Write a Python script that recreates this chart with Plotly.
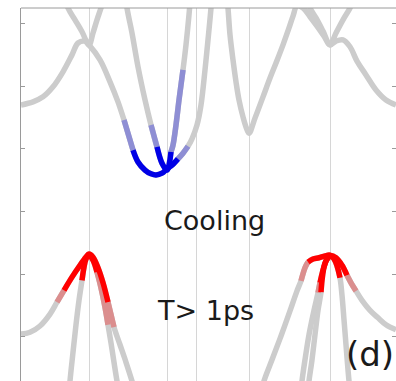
import plotly.graph_objects as go

# Band structure along a k-path (k in path units, E in eV).
# occ = carrier occupation weight at each k-point (0 = empty, 1 = full).

kpath_ticks = [0.68, 1.46, 1.75, 2.28, 3.09]
e_ticks = [-1, 0, 1, 2, 3, 4]

# ---- conduction bands ----
cb1_k = [0.00, 0.12, 0.22, 0.32, 0.42, 0.51, 0.57, 0.64, 0.68, 0.79, 0.89, 0.97,
         1.03, 1.09, 1.12, 1.17, 1.24, 1.30, 1.35, 1.41, 1.46, 1.51, 1.57, 1.62,
         1.67, 1.71, 1.76, 1.80, 1.84, 1.87, 1.90, 1.92]
cb1_e = [2.70, 2.75, 2.83, 2.99, 3.23, 3.50, 3.69, 3.72, 3.66, 3.42, 3.07, 2.75,
         2.46, 2.14, 1.98, 1.79, 1.66, 1.60, 1.58, 1.61, 1.68, 1.74, 1.84, 1.93,
         2.04, 2.16, 2.38, 2.70, 3.26, 3.74, 4.25, 4.70]
cb1_occ = [0, 0, 0, 0, 0, 0, 0, 0, 0, 0, 0, 0,
           0.4, 0.4, 1, 1, 1, 1, 1, 1, 1, 1, 1, 0.4,
           0.4, 0, 0, 0, 0, 0, 0, 0]

cb2_k = [1.01, 1.06, 1.11, 1.17, 1.24, 1.30, 1.36, 1.41, 1.46, 1.50, 1.52, 1.55,
         1.58, 1.62, 1.65, 1.68, 1.70]
cb2_e = [4.86, 4.25, 3.85, 3.31, 2.78, 2.38, 2.03, 1.77, 1.66, 1.95, 2.06, 2.38,
         2.78, 3.26, 3.66, 4.14, 4.54]
cb2_occ = [0, 0, 0, 0, 0, 0.4, 1, 1, 1, 1, 0.4, 0.4,
           0.4, 0.4, 0, 0, 0]

cb3_k = [0.43, 0.47, 0.54, 0.61, 0.68, 0.72, 0.76, 0.80, 0.83]
cb3_e = [4.46, 4.25, 4.06, 3.87, 3.66, 3.85, 4.06, 4.25, 4.41]
cb3_occ = [0] * len(cb3_k)

cb4_k = [2.05, 2.07, 2.09, 2.12, 2.15, 2.18, 2.22, 2.25, 2.28, 2.34, 2.42, 2.49,
         2.55, 2.62, 2.68, 2.72, 2.76, 2.82, 2.89, 2.96, 3.03, 3.09, 3.15, 3.22,
         3.29, 3.36, 3.45, 3.55, 3.65, 3.75]
cb4_e = [4.62, 4.25, 3.82, 3.42, 3.07, 2.78, 2.51, 2.35, 2.25, 2.49, 2.83, 3.13,
         3.37, 3.66, 3.93, 4.12, 4.28, 4.25, 4.11, 3.96, 3.80, 3.66, 3.72, 3.74,
         3.63, 3.40, 3.18, 2.94, 2.78, 2.70]
cb4_occ = [0] * len(cb4_k)

cb5_k = [2.83, 2.89, 2.95, 3.02, 3.09, 3.15, 3.22, 3.29, 3.33]
cb5_e = [4.50, 4.25, 4.09, 3.88, 3.66, 3.85, 4.06, 4.25, 4.41]
cb5_occ = [0] * len(cb5_k)

# ---- valence bands ----
vb1_k = [0.00, 0.09, 0.19, 0.29, 0.36, 0.43, 0.51, 0.59, 0.65, 0.68, 0.72, 0.77,
         0.82, 0.87, 0.90, 0.93, 0.99, 1.05, 1.11, 1.14]
vb1_e = [-0.96, -0.93, -0.83, -0.64, -0.45, -0.26, -0.05, 0.14, 0.27, 0.32, 0.27, 0.10,
         -0.14, -0.45, -0.65, -0.85, -1.13, -1.41, -1.71, -1.88]
vb1_occ = [0, 0, 0, 0, 0.4, 1, 1, 1, 1, 1, 1, 1,
           1, 1, 0.4, 0.4, 0, 0, 0, 0]

vb2_k = [0.48, 0.49, 0.52, 0.55, 0.58, 0.61, 0.63, 0.65, 0.68, 0.72, 0.76, 0.80,
         0.84, 0.87, 0.90, 0.93, 0.96, 0.98]
vb2_e = [-1.93, -1.71, -1.25, -0.81, -0.42, -0.10, 0.11, 0.24, 0.30, 0.22, 0.03, -0.22,
         -0.53, -0.81, -1.10, -1.41, -1.71, -1.88]
vb2_occ = [0, 0, 0, 0, 0, 1, 1, 1, 1, 1, 1, 0.4,
           0.4, 0.4, 0, 0, 0, 0]

vb3_k = [2.41, 2.43, 2.51, 2.60, 2.69, 2.76, 2.80, 2.84, 2.87, 2.92, 2.98, 3.04,
         3.09, 3.13, 3.16, 3.19, 3.21, 3.23, 3.25, 3.27, 3.28, 3.29]
vb3_e = [-1.88, -1.71, -1.37, -0.99, -0.59, -0.27, -0.11, 0.10, 0.19, 0.24, 0.26, 0.29,
         0.30, 0.24, 0.13, -0.06, -0.34, -0.73, -1.13, -1.53, -1.71, -1.88]
vb3_occ = [0, 0, 0, 0, 0, 0, 0.4, 0.4, 1, 1, 1, 1,
           1, 1, 1, 1, 0, 0, 0, 0, 0, 0]

vb4_k = [2.87, 2.88, 2.91, 2.94, 2.97, 3.00, 3.01, 3.03, 3.06, 3.09, 3.15, 3.21,
         3.26, 3.30, 3.35, 3.41, 3.49, 3.57, 3.65, 3.75]
vb4_e = [-1.88, -1.71, -1.37, -0.97, -0.58, -0.29, -0.10, 0.11, 0.24, 0.29, 0.26, 0.14,
         -0.02, -0.14, -0.27, -0.42, -0.58, -0.70, -0.81, -0.89]
vb4_occ = [0, 0, 0, 0, 0, 1, 1, 1, 1, 1, 1, 1,
           1, 0.4, 0.4, 0, 0, 0, 0, 0]

vb5_k = [2.80, 2.81, 2.84, 2.88, 2.93, 2.97, 2.99, 3.02, 3.05, 3.09]
vb5_e = [-1.88, -1.71, -1.37, -0.97, -0.58, -0.30, -0.14, 0.06, 0.21, 0.29]
vb5_occ = [0, 0, 0, 0, 0, 0.4, 1, 1, 1, 1]

GREY = (204, 204, 204)
ELECTRON = (0, 0, 230)
HOLE = (255, 0, 0)

bands = [
    (cb3_k, cb3_e, cb3_occ, ELECTRON),
    (cb5_k, cb5_e, cb5_occ, ELECTRON),
    (cb4_k, cb4_e, cb4_occ, ELECTRON),
    (cb2_k, cb2_e, cb2_occ, ELECTRON),
    (cb1_k, cb1_e, cb1_occ, ELECTRON),
    (vb1_k, vb1_e, vb1_occ, HOLE),
    (vb2_k, vb2_e, vb2_occ, HOLE),
    (vb3_k, vb3_e, vb3_occ, HOLE),
    (vb4_k, vb4_e, vb4_occ, HOLE),
    (vb5_k, vb5_e, vb5_occ, HOLE),
]


def blend(w, rgb):
    t = w ** 1.3
    r, g, b = (round(GREY[i] + t * (rgb[i] - GREY[i])) for i in range(3))
    return f"rgb({r},{g},{b})"


LW = 5.5
fig = go.Figure()

# grey dispersion for every band
for k, e, occ, col in bands:
    fig.add_trace(go.Scatter(
        x=k, y=e, mode="lines", hoverinfo="skip",
        line=dict(color=blend(0, col), width=LW, shape="spline", smoothing=1),
    ))

# occupied stretches, coloured by occupation weight
runs = []
for k, e, occ, col in bands:
    seg = [min(occ[i], occ[i + 1]) for i in range(len(occ) - 1)]
    i = 0
    while i < len(seg):
        j = i
        while j + 1 < len(seg) and seg[j + 1] == seg[i]:
            j += 1
        if seg[i] > 0:
            runs.append((seg[i], k[i:j + 2], e[i:j + 2], col))
        i = j + 1
runs.sort(key=lambda r: r[0])
for w, k, e, col in runs:
    fig.add_trace(go.Scatter(
        x=k, y=e, mode="lines", hoverinfo="skip",
        line=dict(color=blend(w, col), width=LW, shape="spline", smoothing=1),
    ))

FONT = "DejaVu Sans"
fig.add_annotation(x=1.935, y=0.86, text="Cooling", showarrow=False,
                   font=dict(family=FONT, size=27, color="#1a1a1a"))
fig.add_annotation(x=1.84, y=-0.59, text="T> 1ps", showarrow=False,
                   font=dict(family=FONT, size=27, color="#1a1a1a"))
fig.add_annotation(x=3.485, y=-1.27, text="(d)", showarrow=False,
                   font=dict(family=FONT, size=34, color="#1a1a1a"))

# top frame edge
fig.add_shape(type="line", xref="paper", yref="paper", x0=0, x1=1, y0=1, y1=1,
              line=dict(color="#9a9a9a", width=1))

fig.update_layout(
    width=396, height=381,
    margin=dict(l=21, r=0, t=8, b=0),
    paper_bgcolor="white", plot_bgcolor="white",
    showlegend=False,
    xaxis=dict(range=[0, 3.75], tickvals=kpath_ticks, showticklabels=False,
               ticks="", showgrid=True, gridcolor="#d6d6d6", gridwidth=1,
               zeroline=False, showline=False),
    yaxis=dict(range=[-1.709, 4.249], tickvals=e_ticks, showticklabels=False,
               ticks="inside", ticklen=4, tickcolor="#9a9a9a", showgrid=False,
               zeroline=False, showline=True, linecolor="#9a9a9a", linewidth=1,
               mirror="ticks"),
)

fig.write_html("out.html")
